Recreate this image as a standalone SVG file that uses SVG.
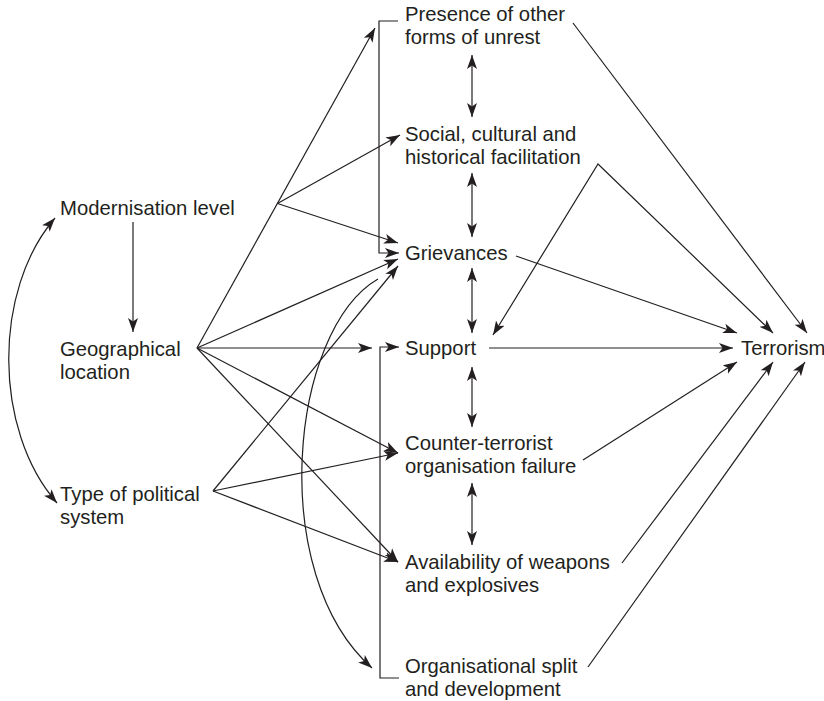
<svg xmlns="http://www.w3.org/2000/svg" width="824" height="701" viewBox="0 0 824 701">
<defs>
<style>
.t{font-family:"Liberation Sans",Arial,Helvetica,sans-serif;font-size:20.3px;fill:#231f20}
.c{fill:none;stroke:#231f20;stroke-width:1.2}
.a{marker-end:url(#ah)}
.d{marker-start:url(#ah);marker-end:url(#ah)}
</style>
<marker id="ah" markerUnits="userSpaceOnUse" markerWidth="15" markerHeight="11" refX="14" refY="5" orient="auto-start-reverse" viewBox="0 0 15 10">
<path d="M0,0 L14,5 L0,10 L3.5,5 z" fill="#231f20"/>
</marker>
</defs>
<rect width="824" height="701" fill="#ffffff"/>
<g id="connectors">
<path class="c a" d="M133,222 L133,332"/>
<path class="c d" d="M55,218 C-7,290 -7,430 57,503"/>
<path class="c a" d="M197,348 L375,28"/>
<path class="c a" d="M277.5,203.5 L400,135"/>
<path class="c a" d="M277.5,203.5 L398,243"/>
<path class="c a" d="M197,348 L398,259"/>
<path class="c a" d="M197,348 L372,348"/>
<path class="c a" d="M197,348 L398,453"/>
<path class="c a" d="M197,348 L398,562"/>
<path class="c a" d="M213,491 L398,266"/>
<path class="c a" d="M213,491 L398,453"/>
<path class="c a" d="M213,491 L398,562"/>
<path class="c a" d="M378,279 C290,330 266,574 372,668"/>
<path class="c a" d="M398,21 L379,21 L379,253 L399,253"/>
<path class="c a" d="M399,678 L380,678 L380,347 L399,347"/>
<path class="c d" d="M472,55 L472,117"/>
<path class="c d" d="M472,173 L472,237"/>
<path class="c d" d="M472,268 L472,333"/>
<path class="c d" d="M472,367 L472,427"/>
<path class="c d" d="M472,483 L472,545"/>
<path class="c a" d="M573,23 L807,333"/>
<path class="c d" d="M493,335 L598,164 L773,333"/>
<path class="c a" d="M516,256 L737,333"/>
<path class="c a" d="M489,348 L733,348"/>
<path class="c a" d="M583,460 L737,362"/>
<path class="c a" d="M622,563 L773,362"/>
<path class="c a" d="M588,667 L805,362"/>
</g>
<g id="modernisation"><text class="t" x="60" y="215">Modernisation level</text></g>
<g id="geographical"><text class="t" x="60" y="356">Geographical</text><text class="t" x="60" y="379">location</text></g>
<g id="political"><text class="t" x="60" y="501">Type of political</text><text class="t" x="60" y="524">system</text></g>
<g id="presence"><text class="t" x="405" y="21">Presence of other</text><text class="t" x="405" y="44">forms of unrest</text></g>
<g id="social"><text class="t" x="405" y="141">Social, cultural and</text><text class="t" x="405" y="164">historical facilitation</text></g>
<g id="grievances"><text class="t" x="405" y="260">Grievances</text></g>
<g id="support"><text class="t" x="405" y="355">Support</text></g>
<g id="counter"><text class="t" x="405" y="450">Counter-terrorist</text><text class="t" x="405" y="473">organisation failure</text></g>
<g id="availability"><text class="t" x="405" y="569">Availability of weapons</text><text class="t" x="405" y="592">and explosives</text></g>
<g id="split"><text class="t" x="405" y="673">Organisational split</text><text class="t" x="405" y="696">and development</text></g>
<g id="terrorism"><text class="t" x="741" y="355">Terrorism</text></g>
</svg>
